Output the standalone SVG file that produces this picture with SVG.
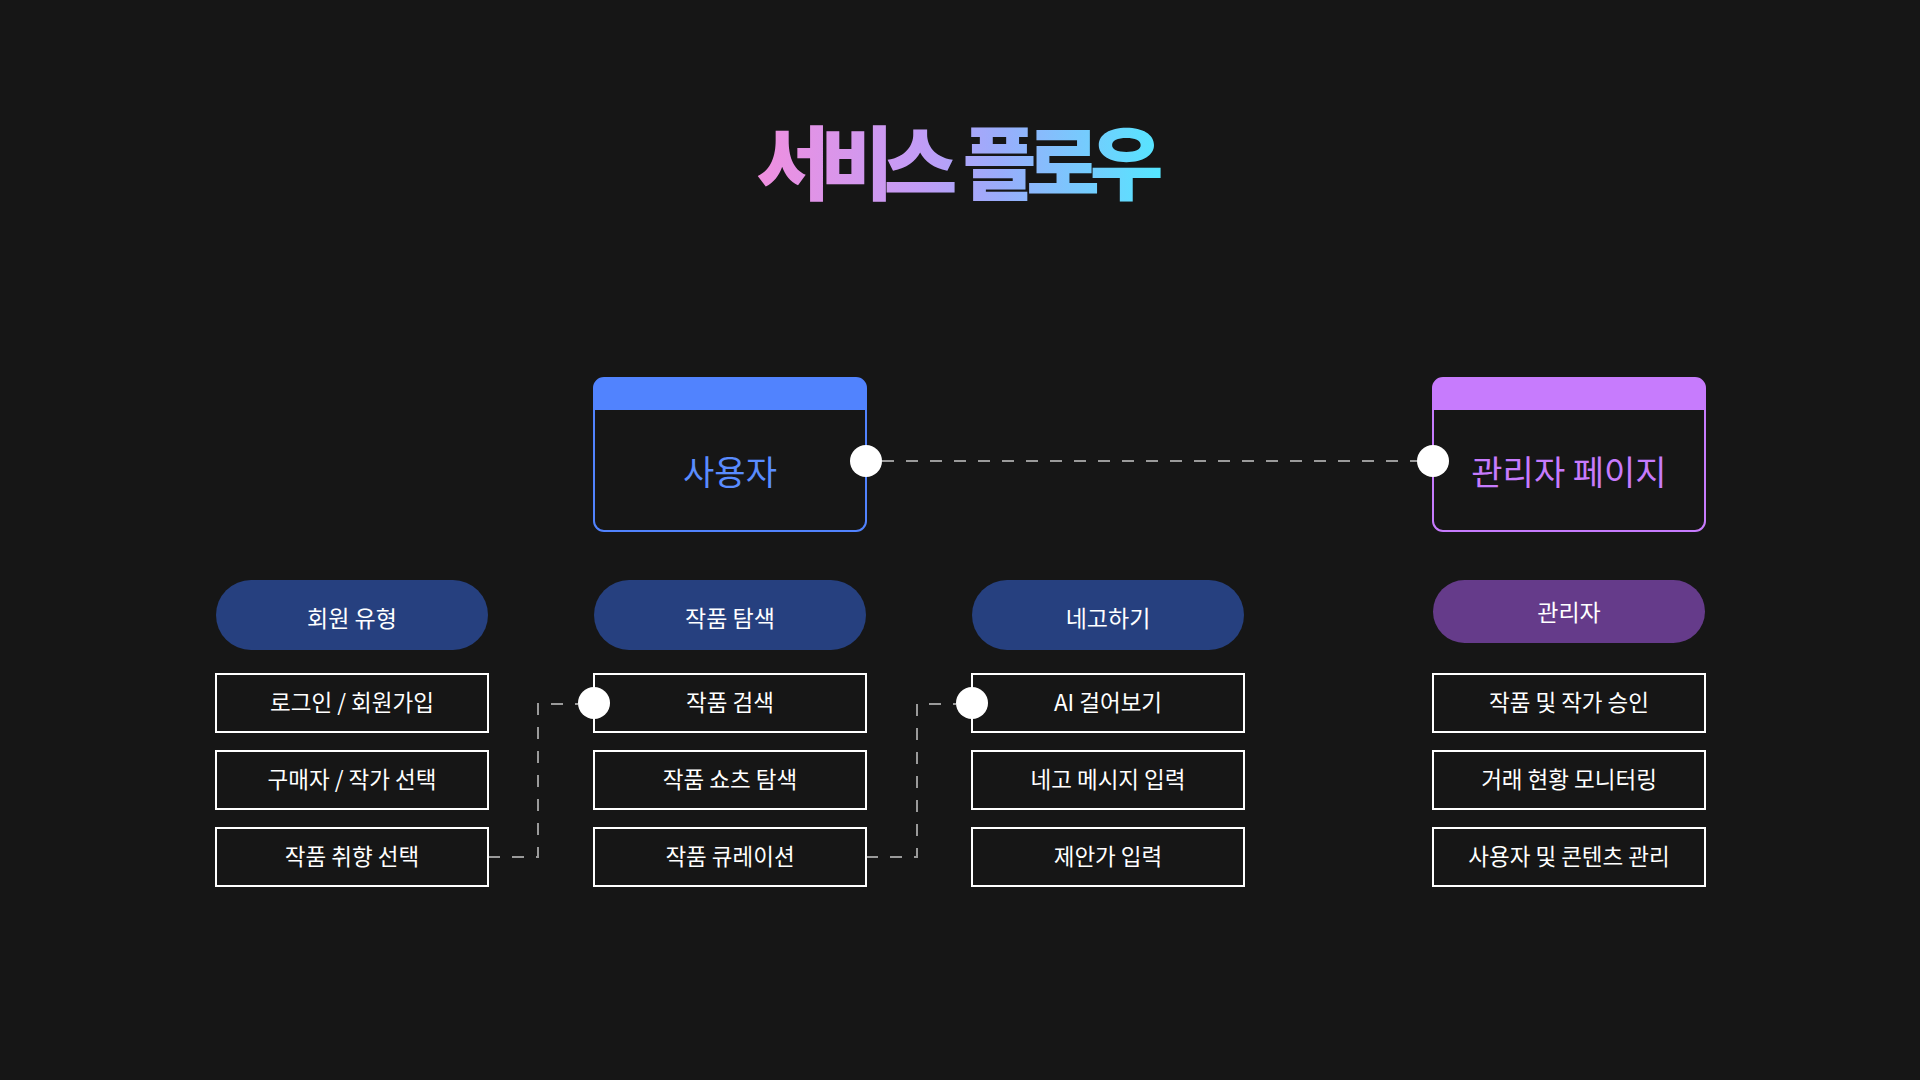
<svg xmlns="http://www.w3.org/2000/svg" width="1920" height="1080" viewBox="0 0 1920 1080">
  <defs>
    <linearGradient id="titleGrad" x1="758" y1="0" x2="1160" y2="0" gradientUnits="userSpaceOnUse">
      <stop offset="0" stop-color="#f08fdf"/>
      <stop offset="0.4" stop-color="#c29cf6"/>
      <stop offset="0.6" stop-color="#9aacfb"/>
      <stop offset="1" stop-color="#55e6ff"/>
    </linearGradient>
    <style>
      text { font-family: "Noto Sans CJK KR", "Noto Sans", sans-serif; text-anchor: middle; }
      .title { font-size: 80px; font-weight: 900; letter-spacing: -10px; word-spacing: 7px; fill: url(#titleGrad); }
      .head { font-size: 34px; font-weight: 400; }
      .pill { font-size: 23px; font-weight: 400; fill: #ffffff; }
      .item-box { fill: #161616; stroke: #ffffff; stroke-width: 2; }
      .item { font-size: 22.5px; font-weight: 400; fill: #ffffff; }
      .dot { fill: #ffffff; }
      .conn { fill: none; stroke: #9a9a9a; stroke-width: 2; stroke-dasharray: 12 12; }
    </style>
  </defs>
  <rect x="0" y="0" width="1920" height="1080" fill="#161616"/>

  <text class="title" x="955" y="193">서비스 플로우</text>

  <g id="connectors">
    <line class="conn" x1="882" y1="461" x2="1417" y2="461"/>
    <path class="conn" d="M488,857 H538 V704 H578"/>
    <path class="conn" d="M866,857 H917 V704 H956"/>
  </g>

  <g id="node-user">
    <rect x="594" y="378" width="272" height="153" rx="10" fill="#161616" stroke="#5183fe" stroke-width="2"/>
    <path d="M594,410 V388 A10,10 0 0 1 604,378 H856 A10,10 0 0 1 866,388 V410 Z" fill="#5183fe"/>
    <text class="head" x="730" y="485" fill="#5a8cff">사용자</text>
    <circle class="dot" cx="866" cy="461" r="16"/>
  </g>

  <g id="node-admin-page">
    <rect x="1433" y="378" width="272" height="153" rx="10" fill="#161616" stroke="#c77bfd" stroke-width="2"/>
    <path d="M1433,410 V388 A10,10 0 0 1 1443,378 H1695 A10,10 0 0 1 1705,388 V410 Z" fill="#c77bfd"/>
    <text class="head" x="1569" y="485" fill="#c77bfd">관리자 페이지</text>
    <circle class="dot" cx="1433" cy="461" r="16"/>
  </g>

  <g id="pill-member">
    <rect x="216" y="580" width="272" height="70" rx="35" fill="#26407f"/>
    <text class="pill" x="352" y="627">회원 유형</text>
  </g>
  <g id="pill-explore">
    <rect x="594" y="580" width="272" height="70" rx="35" fill="#26407f"/>
    <text class="pill" x="730" y="627">작품 탐색</text>
  </g>
  <g id="pill-nego">
    <rect x="972" y="580" width="272" height="70" rx="35" fill="#26407f"/>
    <text class="pill" x="1108" y="627">네고하기</text>
  </g>
  <g id="pill-admin">
    <rect x="1433" y="580" width="272" height="63" rx="31.5" fill="#653b8a"/>
    <text class="pill" x="1569" y="621">관리자</text>
  </g>

  <g id="item-login">
    <rect class="item-box" x="216" y="674" width="272" height="58"/>
    <text class="item" x="352" y="711">로그인 / 회원가입</text>
  </g>
  <g id="item-role">
    <rect class="item-box" x="216" y="751" width="272" height="58"/>
    <text class="item" x="352" y="788">구매자 / 작가 선택</text>
  </g>
  <g id="item-taste">
    <rect class="item-box" x="216" y="828" width="272" height="58"/>
    <text class="item" x="352" y="865">작품 취향 선택</text>
  </g>

  <g id="item-search">
    <rect class="item-box" x="594" y="674" width="272" height="58"/>
    <text class="item" x="730" y="711">작품 검색</text>
    <circle class="dot" cx="594" cy="703" r="16"/>
  </g>
  <g id="item-shorts">
    <rect class="item-box" x="594" y="751" width="272" height="58"/>
    <text class="item" x="730" y="788">작품 쇼츠 탐색</text>
  </g>
  <g id="item-curation">
    <rect class="item-box" x="594" y="828" width="272" height="58"/>
    <text class="item" x="730" y="865">작품 큐레이션</text>
  </g>

  <g id="item-ai">
    <rect class="item-box" x="972" y="674" width="272" height="58"/>
    <text class="item" x="1108" y="711">AI 걸어보기</text>
    <circle class="dot" cx="972" cy="703" r="16"/>
  </g>
  <g id="item-message">
    <rect class="item-box" x="972" y="751" width="272" height="58"/>
    <text class="item" x="1108" y="788">네고 메시지 입력</text>
  </g>
  <g id="item-offer">
    <rect class="item-box" x="972" y="828" width="272" height="58"/>
    <text class="item" x="1108" y="865">제안가 입력</text>
  </g>

  <g id="item-approve">
    <rect class="item-box" x="1433" y="674" width="272" height="58"/>
    <text class="item" x="1569" y="711">작품 및 작가 승인</text>
  </g>
  <g id="item-monitor">
    <rect class="item-box" x="1433" y="751" width="272" height="58"/>
    <text class="item" x="1569" y="788">거래 현황 모니터링</text>
  </g>
  <g id="item-manage">
    <rect class="item-box" x="1433" y="828" width="272" height="58"/>
    <text class="item" x="1569" y="865">사용자 및 콘텐츠 관리</text>
  </g>
</svg>
